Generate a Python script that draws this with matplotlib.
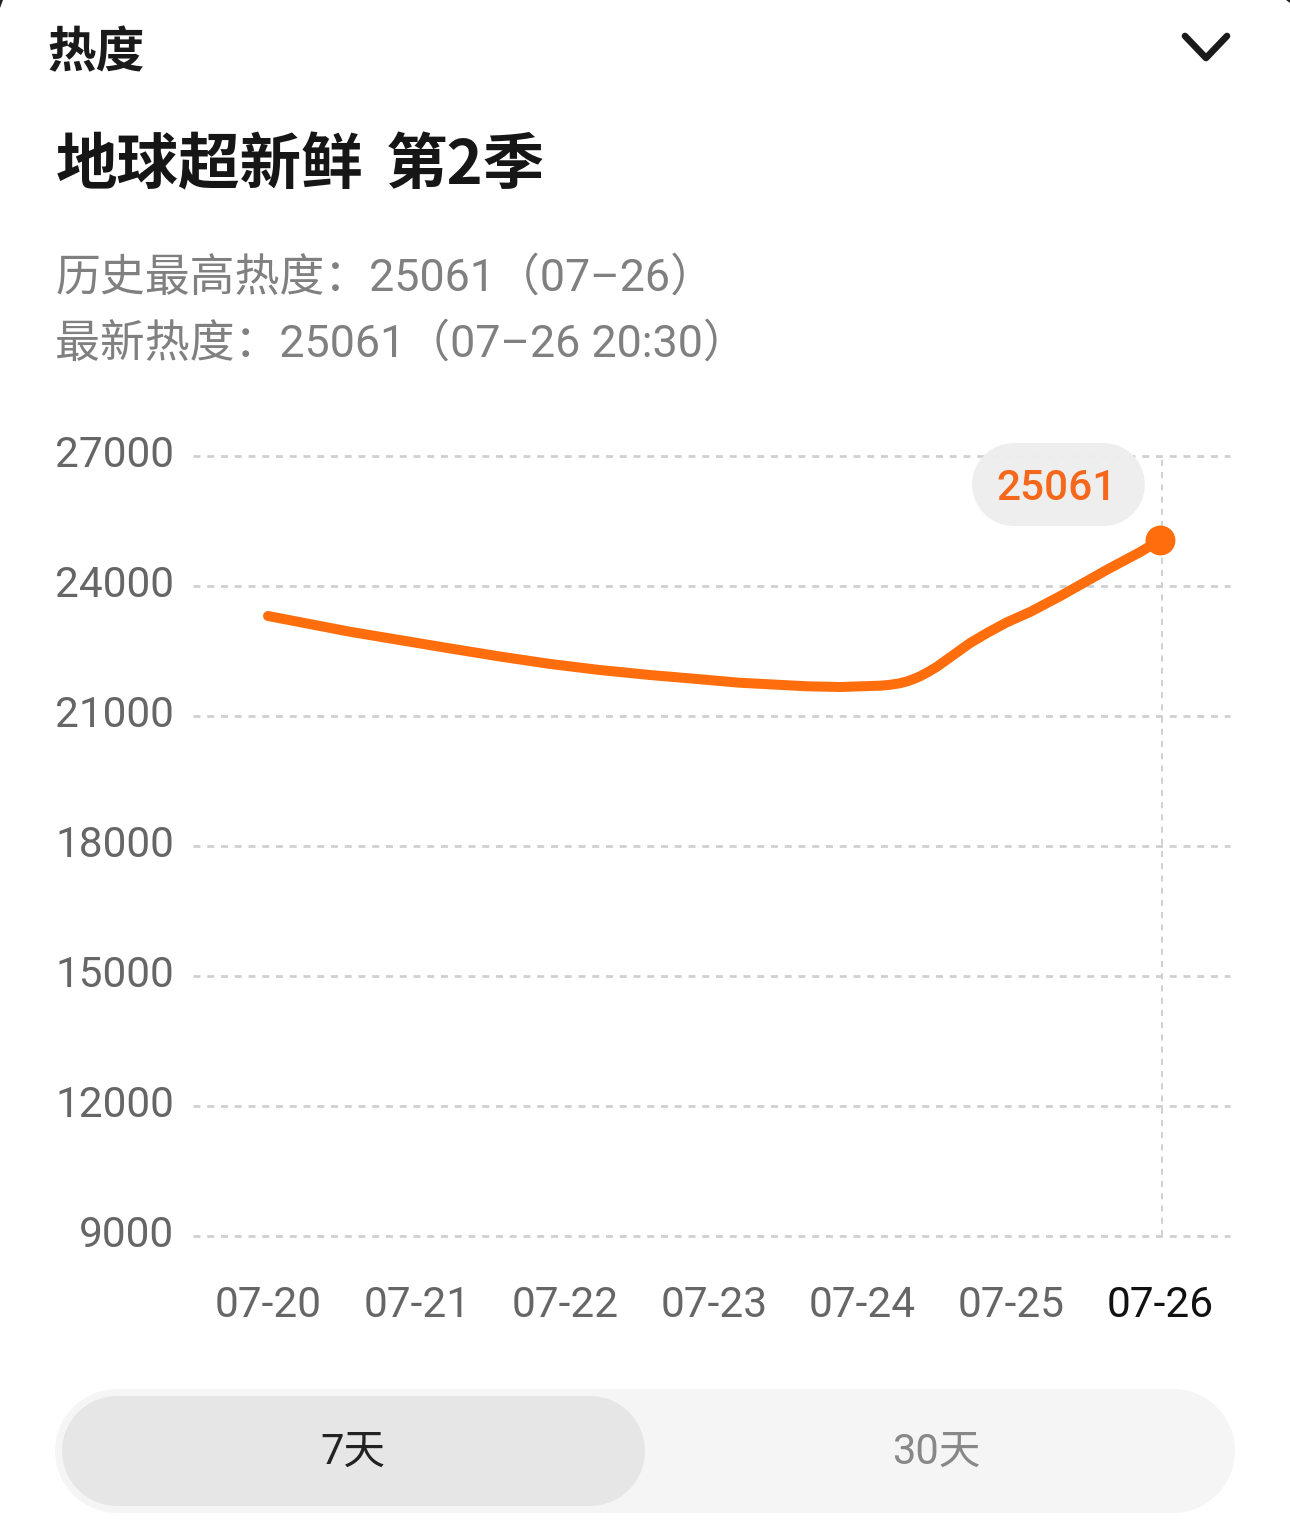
import matplotlib.pyplot as plt
from matplotlib.transforms import ScaledTranslation

WIDTH = 1290
HEIGHT = 1530

ORANGE = "#FF6D0C"
GRID_COLOR = "#D0D0D0"

day_labels = ["07-20", "07-21", "07-22", "07-23", "07-24", "07-25", "07-26"]
y_ticks = [9000, 12000, 15000, 18000, 21000, 24000, 27000]

# x is in days since 07-20
heat_days = [
    0.00, 0.55, 1.22, 1.56, 1.90, 2.23, 2.57, 2.91, 3.17, 3.63, 3.85, 4.12, 4.18,
    4.25, 4.30, 4.35, 4.39, 4.44, 4.50, 4.61, 4.72, 4.84, 4.97, 5.13, 5.33, 5.64, 5.87, 6.00,
]
heat_values = [
    23308, 22945, 22562, 22373, 22200, 22062, 21946, 21847, 21768, 21685, 21669, 21700, 21718,
    21755, 21800, 21863, 21923, 22015, 22138, 22408, 22678, 22922, 23162, 23407, 23769, 24369, 24790, 25061,
]

latest_value = heat_values[-1]
latest_day = heat_days[-1]

show_name = "地球超新鲜"
season_name = "第2季"
peak_text = "历史最高热度：25061（07–26）"
latest_text = "最新热度：25061（07–26 20:30）"

LATIN_FIRST = ["Roboto", "Noto Sans CJK SC"]


def add_pill(ax, left, top, right, bottom, color, alpha=1.0, zorder=1):
    # a thick line with round caps gives true half circles at the ends
    height = bottom - top
    middle = (top + bottom) / 2
    ax.plot(
        [left + height / 2, right - height / 2], [middle, middle],
        color=color, alpha=alpha, lw=height * 0.72, solid_capstyle="round", zorder=zorder,
    )


def draw_chart(fig):
    left = 193 / WIDTH
    right = 1230 / WIDTH
    top = 1 - 456 / HEIGHT
    bottom = 1 - 1236 / HEIGHT
    ax = fig.add_axes([left, bottom, right - left, top - bottom])

    day_px = (1160 - 268) / 6
    ax.set_xlim((193 - 268) / day_px, (1230 - 268) / day_px)
    ax.set_ylim(9000, 27000)

    for tick in y_ticks:
        ax.plot(
            ax.get_xlim(), [tick, tick],
            color=GRID_COLOR, lw=2.0, dashes=(5.0, 4.9), clip_on=False, zorder=1,
        )

    ax.axvline(latest_day + 0.012, color=GRID_COLOR, lw=1.4, dashes=(4.4, 4.4), zorder=1)

    ax.plot(
        heat_days, heat_values,
        color=ORANGE, lw=7.2, solid_capstyle="round", solid_joinstyle="round",
        clip_on=False, zorder=3,
    )
    ax.plot(
        [latest_day], [latest_value], "o",
        color=ORANGE, markersize=21.5, markeredgewidth=0, clip_on=False, zorder=4,
    )

    ax.set_xticks(range(len(day_labels)), day_labels)
    ax.set_yticks(y_ticks, [str(tick) for tick in y_ticks])
    ax.tick_params(axis="both", length=0, labelsize=30.5, labelcolor="#666666")
    ax.tick_params(axis="x", pad=35)
    ax.tick_params(axis="y", pad=13.5)
    for label in ax.get_xticklabels() + ax.get_yticklabels():
        label.set_family("Roboto")
    ax.get_xticklabels()[-1].set_color("#111111")

    # y labels sit a little above their grid lines
    lift = ScaledTranslation(0, 5 / 100, fig.dpi_scale_trans)
    for label in ax.get_yticklabels():
        label.set_transform(label.get_transform() + lift)

    for spine in ax.spines.values():
        spine.set_visible(False)
    ax.patch.set_alpha(0)


def draw_page(fig):
    ax = fig.add_axes([0, 0, 1, 1], zorder=5)
    ax.set_xlim(0, WIDTH)
    ax.set_ylim(HEIGHT, 0)
    ax.axis("off")

    ax.text(47, 67, "热度", fontsize=35, fontweight="bold", color="#1A1A1A")
    ax.plot(
        [1185, 1206, 1227], [36, 58, 36],
        color="#1A1A1A", lw=4.8, solid_capstyle="round", solid_joinstyle="round",
    )

    ax.text(56, 184, show_name, fontsize=44.3, fontweight="bold", color="#161616")
    ax.text(386, 184, season_name, fontsize=44.3, fontweight="bold", color="#161616")
    ax.text(55, 291, peak_text, family=LATIN_FIRST, fontsize=32.3, color="#808080")
    ax.text(55, 357, latest_text, family=LATIN_FIRST, fontsize=32.3, color="#808080")

    # value bubble, the grid shows through it very faintly
    add_pill(ax, 971.5, 442.5, 1144.5, 525.5, "#EEEEEE", alpha=0.95)
    ax.text(
        1056, 488, str(latest_value),
        family="Roboto", fontsize=30.5, fontweight="medium", color="#F5671A",
        ha="center", va="center", zorder=2,
    )

    # 7 / 30 day switch
    add_pill(ax, 55, 1389, 1235, 1513, "#F5F5F5")
    add_pill(ax, 62, 1396, 645, 1506, "#E6E6E6", zorder=2)
    ax.text(
        353, 1452, "7天",
        family=LATIN_FIRST, fontsize=30, color="#222222", ha="center", va="center", zorder=3,
    )
    ax.text(
        936, 1452, "30天",
        family=LATIN_FIRST, fontsize=30, color="#888888", ha="center", va="center", zorder=3,
    )

    # dark screen corners left over from the screenshot
    ax.fill([0, 3, 0], [0, 0, 8], color="#222222", lw=0)
    ax.fill([1286, 1290, 1290], [0, 0, 3], color="#222222", lw=0)


def main():
    plt.rcParams["font.family"] = ["Noto Sans CJK SC", "DejaVu Sans"]
    plt.rcParams["lines.scale_dashes"] = False

    fig = plt.figure(figsize=(WIDTH / 100, HEIGHT / 100), dpi=100, facecolor="white")
    draw_chart(fig)
    draw_page(fig)
    fig.savefig("out.png", dpi=100)
    plt.close(fig)


if __name__ == "__main__":
    main()
